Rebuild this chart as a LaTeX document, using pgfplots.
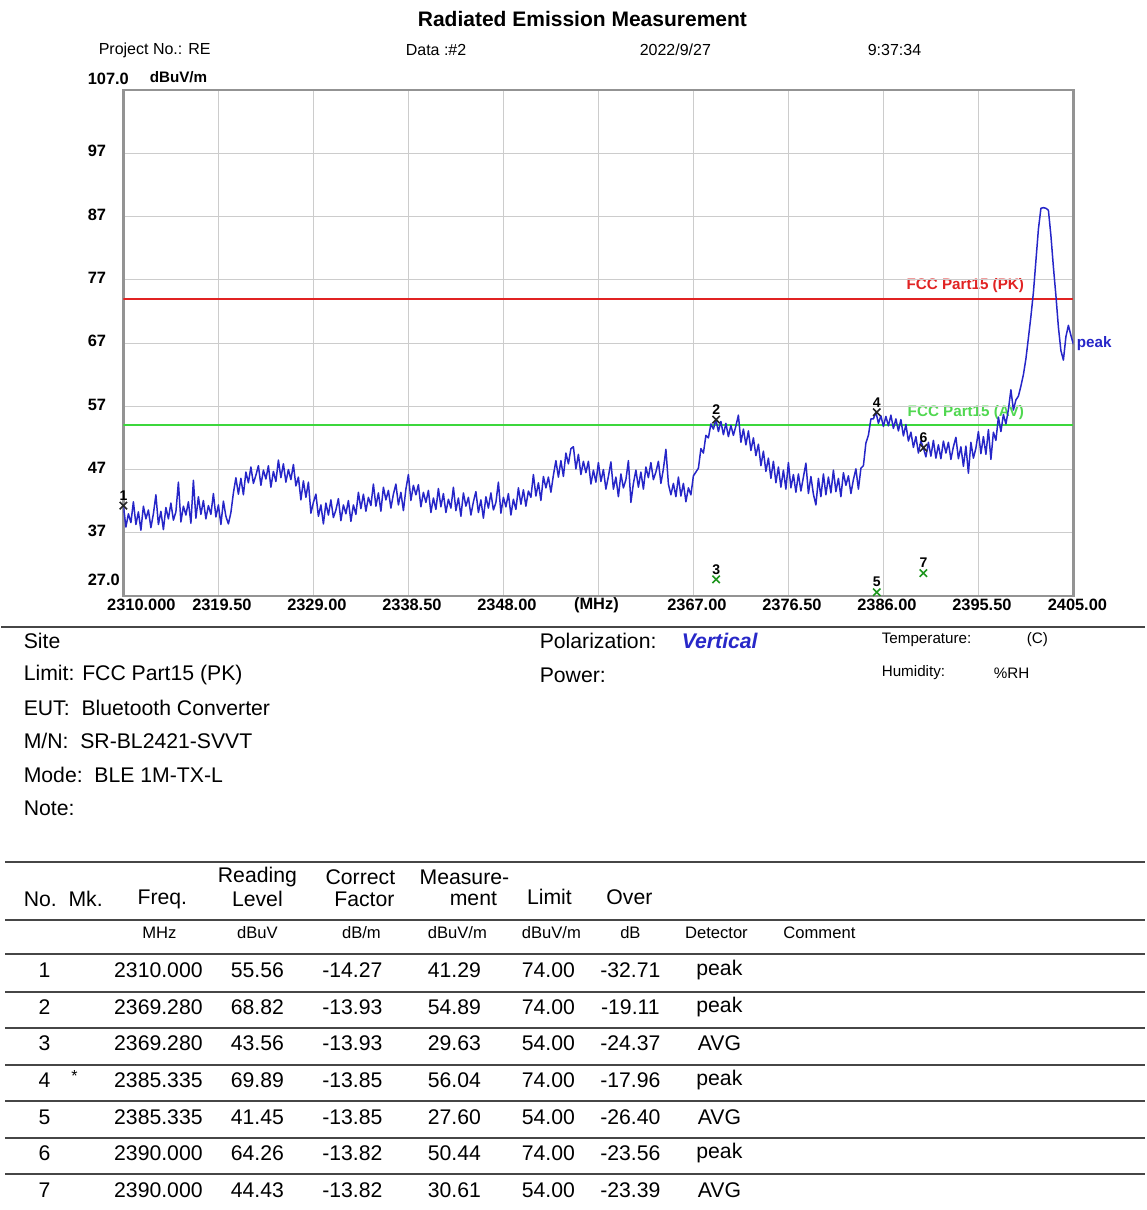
\documentclass[border=0pt]{standalone}
\usepackage{fontspec}
\setmainfont{Liberation Sans}
\usepackage{pgfplots}
\pgfplotsset{compat=1.18}
\definecolor{trace}{RGB}{38,38,200}
\definecolor{pk}{RGB}{225,35,35}
\definecolor{av}{RGB}{60,215,60}
\definecolor{avtext}{RGB}{80,215,80}
\definecolor{mkgreen}{RGB}{30,150,30}
\definecolor{rulec}{RGB}{70,70,70}
\definecolor{vert}{RGB}{40,40,200}
\newcommand{\fs}[1]{\fontsize{#1}{#1}\selectfont}
\begin{document}
\begin{tikzpicture}
\begin{scope}[x=0.5pt,y=-0.5pt]
\path (0,0) rectangle (1144,1210);
% title and header
\node[font=\bfseries\fs{10.5},inner sep=0] at (581,19) {Radiated Emission Measurement};
\begin{scope}[every node/.style={anchor=west,inner sep=0,font=\fs{8}}]
\node at (97,50) {Project No.: RE};
\node at (404,50) {Data :\#2};
\node at (638,50) {2022/9/27};
\node at (866,50) {9:37:34};
\end{scope}
% y tick labels
\begin{scope}[every node/.style={anchor=west,inner sep=0,font=\bfseries\fs{8.2}}]
\node at (86,79) {107.0};
\node[font=\bfseries\fs{7.6}] at (148,77) {dBuV/m};
\node at (86,151) {97};
\node at (86,215) {87};
\node at (86,278) {77};
\node at (86,341) {67};
\node at (86,405) {57};
\node at (86,468) {47};
\node at (86,531) {37};
\node at (86,580) {27.0};
\end{scope}
% x tick labels
\begin{scope}[every node/.style={inner sep=0,font=\bfseries\fs{8.2}}]
\node at (140,605) {2310.000};
\node at (220.5,605) {2319.50};
\node at (315.5,605) {2329.00};
\node at (410.5,605) {2338.50};
\node at (505.5,605) {2348.00};
\node at (595,605) {(MHz)};
\node at (695.5,605) {2367.00};
\node at (790.5,605) {2376.50};
\node at (885.5,605) {2386.00};
\node at (980.5,605) {2395.50};
\node at (1076,605) {2405.00};
\end{scope}
% limit labels
\node[anchor=east,inner sep=0,font=\bfseries\fs{7.6},text=pk] at (1023,286) {FCC Part15 (PK)};
\node[anchor=east,inner sep=0,font=\bfseries\fs{7.6},text=avtext] at (1023,413) {FCC Part15 (AV)};
\node[anchor=west,inner sep=0,font=\bfseries\fs{7.6},text=trace] at (1075,344) {peak};
% separator under plot
\draw[rulec,line width=1.4pt] (0,627) -- (1144,627);
% info block
\begin{scope}[every node/.style={anchor=west,inner sep=0,font=\fs{10.6}}]
\node at (22,641) {Site};
\node at (22,675) {Limit: FCC Part15 (PK)};
\node at (22,708) {EUT:\ \ Bluetooth Converter};
\node at (22,741) {M/N:\ \ SR-BL2421-SVVT};
\node at (22,775) {Mode:\ \ BLE 1M-TX-L};
\node at (22,808) {Note:};
\node at (538,641) {Polarization:};
\node[font=\bfseries\itshape\fs{10.6},text=vert] at (680,641) {Vertical};
\node at (538,675) {Power:};
\node[font=\fs{7.6}] at (880,640) {Temperature:};
\node[font=\fs{7.6}] at (1025,640) {(C)};
\node[font=\fs{7.6}] at (880,673) {Humidity:};
\node[font=\fs{7.6}] at (992,673) {\%RH};
\end{scope}
% table rules
\foreach \yy in {862,920,954,992,1028,1065,1101,1138,1174}
  \draw[rulec,line width=1.4pt] (4,\yy) -- (1144,\yy);
% table header
\begin{scope}[every node/.style={inner sep=0,font=\fs{10.6}}]
\node[anchor=west] at (22,899) {No.\ \ Mk.};
\node at (161,899) {Freq.};
\node at (256,877) {Reading};
\node at (256,899) {Level};
\node at (359,877) {Correct};
\node at (363,899) {Factor};
\node at (463,877) {Measure-};
\node at (472,899) {ment};
\node at (548,897) {Limit};
\node at (628,897) {Over};
\end{scope}
\begin{scope}[every node/.style={inner sep=0,font=\fs{8.3}}]
\node at (158,933) {MHz};
\node at (256,933) {dBuV};
\node at (360,933) {dB/m};
\node at (456,933) {dBuV/m};
\node at (550,933) {dBuV/m};
\node at (629,933) {dB};
\node at (715,933) {Detector};
\node at (818,933) {Comment};
\end{scope}
% table rows
\foreach \yy/\n/\f/\r/\c/\m/\l/\o/\d in {
 970/1/2310.000/55.56/-14.27/41.29/74.00/-32.71/peak,
 1007/2/2369.280/68.82/-13.93/54.89/74.00/-19.11/peak,
 1043/3/2369.280/43.56/-13.93/29.63/54.00/-24.37/AVG,
 1080/4/2385.335/69.89/-13.85/56.04/74.00/-17.96/peak,
 1117/5/2385.335/41.45/-13.85/27.60/54.00/-26.40/AVG,
 1153/6/2390.000/64.26/-13.82/50.44/74.00/-23.56/peak,
 1190/7/2390.000/44.43/-13.82/30.61/54.00/-23.39/AVG}{
 \begin{scope}[every node/.style={inner sep=0,font=\fs{10.6}}]
 \node at (43,\yy) {\n};
 \node at (157,\yy) {\f};
 \node at (256,\yy) {\r};
 \node at (351,\yy) {\c};
 \node at (453,\yy) {\m};
 \node at (547,\yy) {\l};
 \node at (629,\yy) {\o};
 \node at (718,\yy) {\d};
 \end{scope}
}
\node[inner sep=0,font=\fs{8}] at (73,1076) {*};
\end{scope}

\begin{axis}[at={(61pt,-298pt)}, anchor=south west, scale only axis,
  width=475pt, height=253pt,
  xmin=2310, xmax=2405, ymin=27, ymax=107,
  xtick={2310,2319.5,2329,2338.5,2348,2357.5,2367,2376.5,2386,2395.5,2405},
  ytick={27,37,47,57,67,77,87,97,107},
  xticklabels={}, yticklabels={},
  major tick length=0pt,
  grid=major, major grid style={draw=gray!40,line width=0.5pt},
  axis line style={draw=gray!85,line width=1.2pt},
  clip=true]
\addplot[pk,line width=1pt] coordinates {(2310,74) (2405,74)};
\addplot[av,line width=1.2pt] coordinates {(2310,54) (2405,54)};
\addplot[trace,line width=0.75pt,line join=round] coordinates {
(2310.00,41.3)(2310.25,37.9)(2310.50,40.0)(2310.75,38.6)(2311.00,41.9)(2311.25,38.3)(2311.50,40.3)(2311.75,37.4)
(2312.00,41.2)(2312.25,39.2)(2312.50,40.6)(2312.75,37.8)(2313.00,40.0)(2313.25,43.0)(2313.50,38.3)(2313.75,40.4)
(2314.00,37.5)(2314.25,41.0)(2314.50,39.2)(2314.75,41.7)(2315.00,39.0)(2315.25,40.3)(2315.50,45.0)(2315.75,38.7)
(2316.00,41.2)(2316.25,39.8)(2316.50,41.9)(2316.75,38.5)(2317.00,45.3)(2317.25,39.3)(2317.50,42.7)(2317.75,39.9)
(2318.00,42.1)(2318.25,39.2)(2318.50,41.3)(2318.75,39.9)(2319.00,43.2)(2319.25,39.5)(2319.50,41.4)(2319.75,38.3)
(2320.00,42.0)(2320.25,39.6)(2320.50,38.4)(2320.75,40.2)(2321.00,43.3)(2321.25,45.7)(2321.50,43.1)(2321.75,45.6)
(2322.00,43.0)(2322.25,46.6)(2322.50,44.9)(2322.75,47.4)(2323.00,44.8)(2323.25,46.1)(2323.50,47.6)(2323.75,44.5)
(2324.00,46.9)(2324.25,45.5)(2324.50,47.6)(2324.75,44.2)(2325.00,46.7)(2325.25,45.1)(2325.50,48.5)(2325.75,45.7)
(2326.00,47.9)(2326.25,45.0)(2326.50,47.0)(2326.75,45.4)(2327.00,47.8)(2327.25,44.4)(2327.50,45.8)(2327.75,42.2)
(2328.00,45.2)(2328.25,42.6)(2328.50,45.0)(2328.75,40.1)(2329.00,41.8)(2329.25,43.1)(2329.50,39.6)(2329.75,41.4)
(2330.00,38.4)(2330.25,41.7)(2330.50,39.8)(2330.75,42.2)(2331.00,39.4)(2331.25,40.6)(2331.50,42.4)(2331.75,38.9)
(2332.00,41.4)(2332.25,40.0)(2332.50,42.1)(2332.75,38.8)(2333.00,41.4)(2333.25,39.9)(2333.50,43.4)(2333.75,40.8)
(2334.00,43.1)(2334.25,40.4)(2334.50,42.6)(2334.75,41.3)(2335.00,44.7)(2335.25,41.2)(2335.50,43.3)(2335.75,40.4)
(2336.00,44.2)(2336.25,42.2)(2336.50,43.7)(2336.75,40.9)(2337.00,43.1)(2337.25,44.7)(2337.50,41.4)(2337.75,43.4)
(2338.00,40.5)(2338.25,43.9)(2338.50,46.2)(2338.75,42.1)(2339.00,44.5)(2339.25,43.0)(2339.50,44.6)(2339.75,41.1)
(2340.00,43.4)(2340.25,41.8)(2340.50,43.7)(2340.75,40.2)(2341.00,42.5)(2341.25,40.7)(2341.50,44.0)(2341.75,41.1)
(2342.00,43.2)(2342.25,40.2)(2342.50,42.3)(2342.75,40.9)(2343.00,44.2)(2343.25,40.5)(2343.50,42.5)(2343.75,39.6)
(2344.00,43.3)(2344.25,41.2)(2344.50,42.6)(2344.75,39.8)(2345.00,41.9)(2345.25,43.5)(2345.50,40.2)(2345.75,42.2)
(2346.00,39.3)(2346.25,42.7)(2346.50,40.9)(2346.75,43.3)(2347.00,40.6)(2347.25,41.8)(2347.50,45.0)(2347.75,40.1)
(2348.00,42.6)(2348.25,41.1)(2348.50,43.2)(2348.75,39.8)(2349.00,42.3)(2349.25,40.7)(2349.50,44.1)(2349.75,41.5)
(2350.00,43.8)(2350.25,41.2)(2350.50,43.6)(2350.75,42.6)(2351.00,46.2)(2351.25,42.8)(2351.50,44.9)(2351.75,42.1)
(2352.00,45.9)(2352.25,44.1)(2352.50,45.8)(2352.75,43.4)(2353.00,46.1)(2353.25,48.4)(2353.50,45.8)(2353.75,48.4)
(2354.00,45.9)(2354.25,49.6)(2354.50,47.9)(2354.75,50.3)(2355.00,50.6)(2355.25,47.1)(2355.50,49.4)(2355.75,46.2)
(2356.00,48.3)(2356.25,46.5)(2356.50,48.3)(2356.75,44.7)(2357.00,46.9)(2357.25,45.0)(2357.50,48.1)(2357.75,45.1)
(2358.00,47.0)(2358.25,43.9)(2358.50,45.9)(2358.75,48.2)(2359.00,43.9)(2359.25,45.8)(2359.50,42.7)(2359.75,46.3)
(2360.00,44.1)(2360.25,45.4)(2360.50,48.4)(2360.75,41.8)(2361.00,44.8)(2361.25,46.9)(2361.50,44.2)(2361.75,46.6)
(2362.00,43.9)(2362.25,47.4)(2362.50,45.7)(2362.75,48.1)(2363.00,45.4)(2363.25,46.6)(2363.50,48.3)(2363.75,44.8)
(2364.00,47.1)(2364.25,50.2)(2364.50,44.7)(2364.75,43.0)(2365.00,44.8)(2365.25,42.7)(2365.50,45.8)(2365.75,42.8)
(2366.00,44.8)(2366.25,41.9)(2366.50,44.1)(2366.75,43.0)(2367.00,46.0)(2367.25,46.6)(2367.50,47.2)(2367.75,50.3)
(2368.00,49.6)(2368.25,52.4)(2368.50,52.0)(2368.75,54.2)(2369.00,53.4)(2369.25,54.9)(2369.50,53.0)(2369.75,54.6)
(2370.00,52.5)(2370.25,54.3)(2370.50,52.2)(2370.75,54.0)(2371.00,52.4)(2371.25,53.9)(2371.50,55.6)(2371.75,51.3)
(2372.00,53.4)(2372.25,50.9)(2372.50,53.1)(2372.75,50.0)(2373.00,52.0)(2373.25,49.2)(2373.50,51.0)(2373.75,47.6)
(2374.00,49.9)(2374.25,46.7)(2374.50,48.8)(2374.75,45.6)(2375.00,48.3)(2375.25,44.9)(2375.50,47.4)(2375.75,44.2)
(2376.00,46.9)(2376.25,43.9)(2376.50,48.1)(2376.75,44.1)(2377.00,46.2)(2377.25,43.4)(2377.50,46.3)(2377.75,43.6)
(2378.00,45.8)(2378.25,48.0)(2378.50,43.2)(2378.75,45.9)(2379.00,43.1)(2379.25,41.4)(2379.50,45.6)(2379.75,42.7)
(2380.00,46.3)(2380.25,43.0)(2380.50,45.8)(2380.75,43.3)(2381.00,46.9)(2381.25,43.5)(2381.50,45.6)(2381.75,42.7)
(2382.00,46.5)(2382.25,44.5)(2382.50,46.0)(2382.75,43.2)(2383.00,45.4)(2383.25,47.1)(2383.50,43.9)(2383.75,47.2)
(2384.00,47.6)(2384.25,51.2)(2384.50,52.4)(2384.75,55.0)(2385.00,55.0)(2385.25,56.1)(2385.50,54.3)(2385.75,55.5)
(2386.00,53.8)(2386.25,55.4)(2386.50,53.9)(2386.75,55.6)(2387.00,53.5)(2387.25,55.0)(2387.50,53.1)(2387.75,54.9)
(2388.00,52.3)(2388.25,54.1)(2388.50,51.5)(2388.75,52.9)(2389.00,50.5)(2389.25,52.2)(2389.50,49.6)(2389.75,51.5)
(2390.00,50.4)(2390.25,49.0)(2390.50,51.3)(2390.75,49.1)(2391.00,51.6)(2391.25,48.8)(2391.50,50.9)(2391.75,48.7)
(2392.00,51.5)(2392.25,49.6)(2392.50,51.3)(2392.75,48.6)(2393.00,50.6)(2393.25,52.1)(2393.50,48.7)(2393.75,50.6)
(2394.00,47.5)(2394.25,50.7)(2394.50,46.4)(2394.75,51.3)(2395.00,48.8)(2395.25,50.4)(2395.50,53.0)(2395.75,49.5)
(2396.00,52.2)(2396.25,49.4)(2396.50,53.3)(2396.75,48.6)(2397.00,52.9)(2397.25,51.6)(2397.50,55.3)(2397.75,53.0)
(2398.00,55.7)(2398.25,54.2)(2398.50,56.5)(2398.75,59.6)(2399.00,56.4)(2399.25,58.0)(2399.50,58.6)(2399.75,60.2)
(2400.00,62.0)(2400.25,64.5)(2400.50,67.8)(2400.75,71.2)(2401.00,75.0)(2401.25,80.0)(2401.50,85.0)(2401.75,88.3)
(2402.00,88.4)(2402.25,88.3)(2402.50,88.0)(2402.75,84.0)(2403.00,79.0)(2403.25,74.5)(2403.50,69.5)(2403.75,65.8)
(2404.00,64.3)(2404.25,68.0)(2404.50,69.8)(2404.75,68.2)(2405.00,66.8)};
\addplot[only marks, mark=x, mark size=2.6pt, line width=0.8pt, black!85,
  nodes near coords, point meta=explicit symbolic,
  every node near coord/.style={anchor=south,inner sep=0pt,yshift=2.2pt,font=\bfseries\fs{7},text=black}]
  coordinates {(2310,41.29)[1] (2369.28,54.89)[2] (2385.335,56.04)[4] (2390,50.44)[6]};
\addplot[only marks, mark=x, mark size=2.6pt, line width=0.8pt, mkgreen,
  nodes near coords, point meta=explicit symbolic,
  every node near coord/.style={anchor=south,inner sep=0pt,yshift=2.2pt,font=\bfseries\fs{7},text=black}]
  coordinates {(2369.28,29.63)[3] (2385.335,27.60)[5] (2390,30.61)[7]};
\end{axis}
\end{tikzpicture}
\end{document}
